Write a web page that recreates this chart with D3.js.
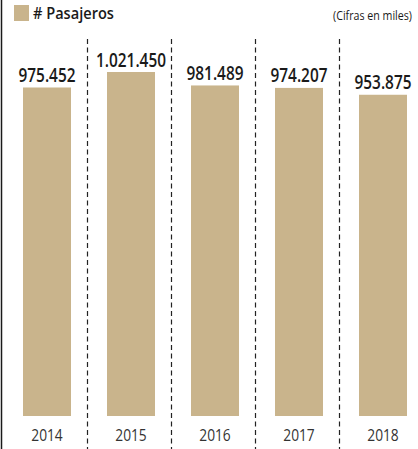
<!DOCTYPE html>
<html>
<head>
<meta charset="utf-8">
<script src="https://cdn.jsdelivr.net/npm/d3@7"></script>
<style>
  html, body { margin: 0; padding: 0; background: #fff; }
  svg { display: block; }
  text { font-family: "Open Sans", "Noto Sans", sans-serif; }
</style>
</head>
<body>
<svg id="chart" width="418" height="449"></svg>
<script>
const years = ["2014", "2015", "2016", "2017", "2018"];
const pasajeros = [975452, 1021450, 981489, 974207, 953875];
const valueLabels = ["975.452", "1.021.450", "981.489", "974.207", "953.875"];
const seriesName = "# Pasajeros";
const unitNote = "(Cifras en miles)";

const W = 418, H = 449;
const barColor = "#C9B48C";
const svg = d3.select("#chart");

const x = d3.scaleBand().domain(years).range([5, 425]).paddingInner(0.4286).paddingOuter(0.2143);
const y = d3.scaleLinear().domain([0, d3.max(pasajeros)]).range([416, 72]);

// horizontally condense text (placed at x=0 inside a translated group) to a target width of a reference string
function condense(sel, refIndex, targetWidth) {
  const nodes = sel.nodes();
  const k = targetWidth / nodes[refIndex].getComputedTextLength();
  sel.attr("transform", function () {
    const prev = this.getAttribute("transform") || "";
    return prev + " scale(" + k + ",1)";
  });
}

// left border
svg.append("line").attr("x1", 1.5).attr("x2", 1.5).attr("y1", 0).attr("y2", H)
  .attr("stroke", "#1a1a1a").attr("stroke-width", 1.5);

// dashed separators
const gap = (x.step() - x.bandwidth()) / 2;
svg.append("g").selectAll("line").data(years.slice(1)).join("line")
  .attr("x1", d => x(d) - gap - 1.5).attr("x2", d => x(d) - gap - 1.5)
  .attr("y1", 39).attr("y2", H)
  .attr("stroke", "#222").attr("stroke-width", 1.2)
  .attr("stroke-dasharray", "5,3.5");

// bars
svg.append("g").selectAll("rect").data(years).join("rect")
  .attr("x", d => x(d)).attr("width", x.bandwidth())
  .attr("y", (d, i) => y(pasajeros[i]))
  .attr("height", (d, i) => y(0) - y(pasajeros[i]))
  .attr("fill", barColor);

// value labels
const vl = svg.append("g").selectAll("text").data(years).join("text")
  .attr("transform", (d, i) => "translate(" + (x(d) + x.bandwidth() / 2) + "," + (y(pasajeros[i]) - 5.5) + ")")
  .attr("text-anchor", "middle")
  .attr("font-size", 19.5).attr("font-weight", 600).attr("fill", "#1a1a1a")
  .text((d, i) => valueLabels[i]);
condense(vl, 0, 57);

// x axis labels
const xAxis = d3.axisBottom(x).tickSize(0).tickPadding(0);
const gx = svg.append("g").attr("transform", "translate(0,429)").call(xAxis);
gx.select(".domain").remove();
const xt = gx.selectAll("text").attr("font-size", 16.5).attr("fill", "#333")
  .attr("font-family", "'Open Sans', 'Noto Sans', sans-serif");
condense(xt, 0, 31.5);

// legend
svg.append("rect").attr("x", 14).attr("y", 5).attr("width", 15).attr("height", 16).attr("fill", barColor);
const lg = svg.append("text").attr("transform", "translate(33,18.5)").attr("font-size", 16).attr("font-weight", 600)
  .attr("fill", "#1a1a1a").text(seriesName);
condense(lg, 0, 81);
const un = svg.append("text").attr("transform", "translate(412,19.5)").attr("text-anchor", "end").attr("font-size", 13.5)
  .attr("fill", "#1a1a1a").text(unitNote);
condense(un, 0, 79);
</script>
</body>
</html>
